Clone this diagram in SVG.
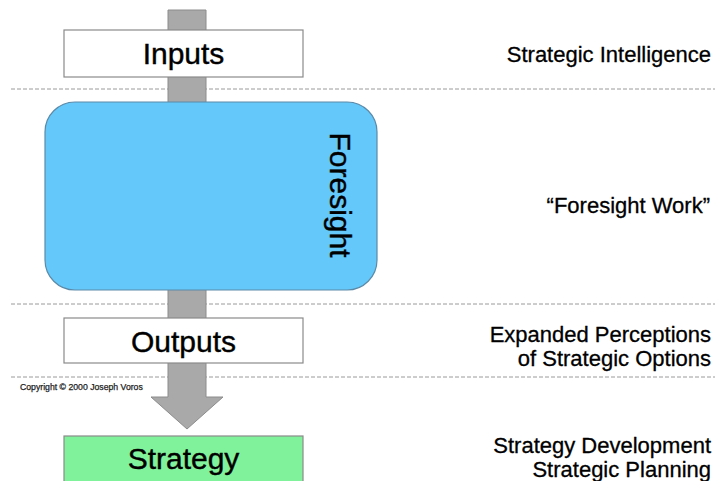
<svg xmlns="http://www.w3.org/2000/svg" width="715" height="481" viewBox="0 0 715 481">
<style>
.box{stroke:#8a8a8a;stroke-width:1.2}
.lbl{font-family:"Liberation Sans",Arial,Helvetica,sans-serif;font-size:30px;fill:#000;stroke:#000;stroke-width:0.4;text-anchor:middle}
.side{font-family:"Liberation Sans",Arial,Helvetica,sans-serif;font-size:22px;fill:#000;stroke:#000;stroke-width:0.3;text-anchor:end}
.dash{stroke:#9a9a9a;stroke-width:1;stroke-dasharray:4 2;fill:none}
.flow{fill:#a9a9a9;stroke:#8c8c8c;stroke-width:1}
</style>
<rect width="715" height="481" fill="#ffffff"/>
<g id="dividers">
<line class="dash" x1="11" y1="89" x2="715" y2="89"/>
<line class="dash" x1="11" y1="304" x2="715" y2="304"/>
<line class="dash" x1="11" y1="377" x2="715" y2="377"/>
</g>
<g id="connectors">
<polygon class="flow" points="168,10 206,10 206,397 223,397 187,429 151,397 168,397"/>
</g>
<g id="inputs">
<rect class="box" x="64" y="30" width="239" height="47" fill="#ffffff"/>
<text class="lbl" x="183.5" y="64">Inputs</text>
</g>
<g id="foresight">
<rect x="45" y="102" width="332" height="188" rx="30" ry="30" fill="#64c8fa" stroke="#5b8aa8" stroke-width="1.2"/>
<text class="lbl" transform="translate(330,195) rotate(90)" x="0" y="0">Foresight</text>
</g>
<g id="outputs">
<rect class="box" x="64" y="318" width="239" height="45" fill="#ffffff"/>
<text class="lbl" x="183.5" y="352">Outputs</text>
</g>
<g id="strategy">
<rect class="box" x="64" y="436" width="239" height="50" fill="#80f29b"/>
<text class="lbl" x="183.5" y="469">Strategy</text>
</g>
<g id="side-labels">
<text class="side" x="711" y="62">Strategic Intelligence</text>
<text class="side" x="710" y="213">“Foresight Work”</text>
<text class="side" x="711" y="342">Expanded Perceptions</text>
<text class="side" x="711" y="366">of Strategic Options</text>
<text class="side" x="711" y="453">Strategy Development</text>
<text class="side" x="711" y="477">Strategic Planning</text>
</g>
<text x="20" y="390" font-family="'Liberation Sans',Arial,sans-serif" font-size="8.7" fill="#222" stroke="#222" stroke-width="0.25">Copyright © 2000 Joseph Voros</text>
</svg>
